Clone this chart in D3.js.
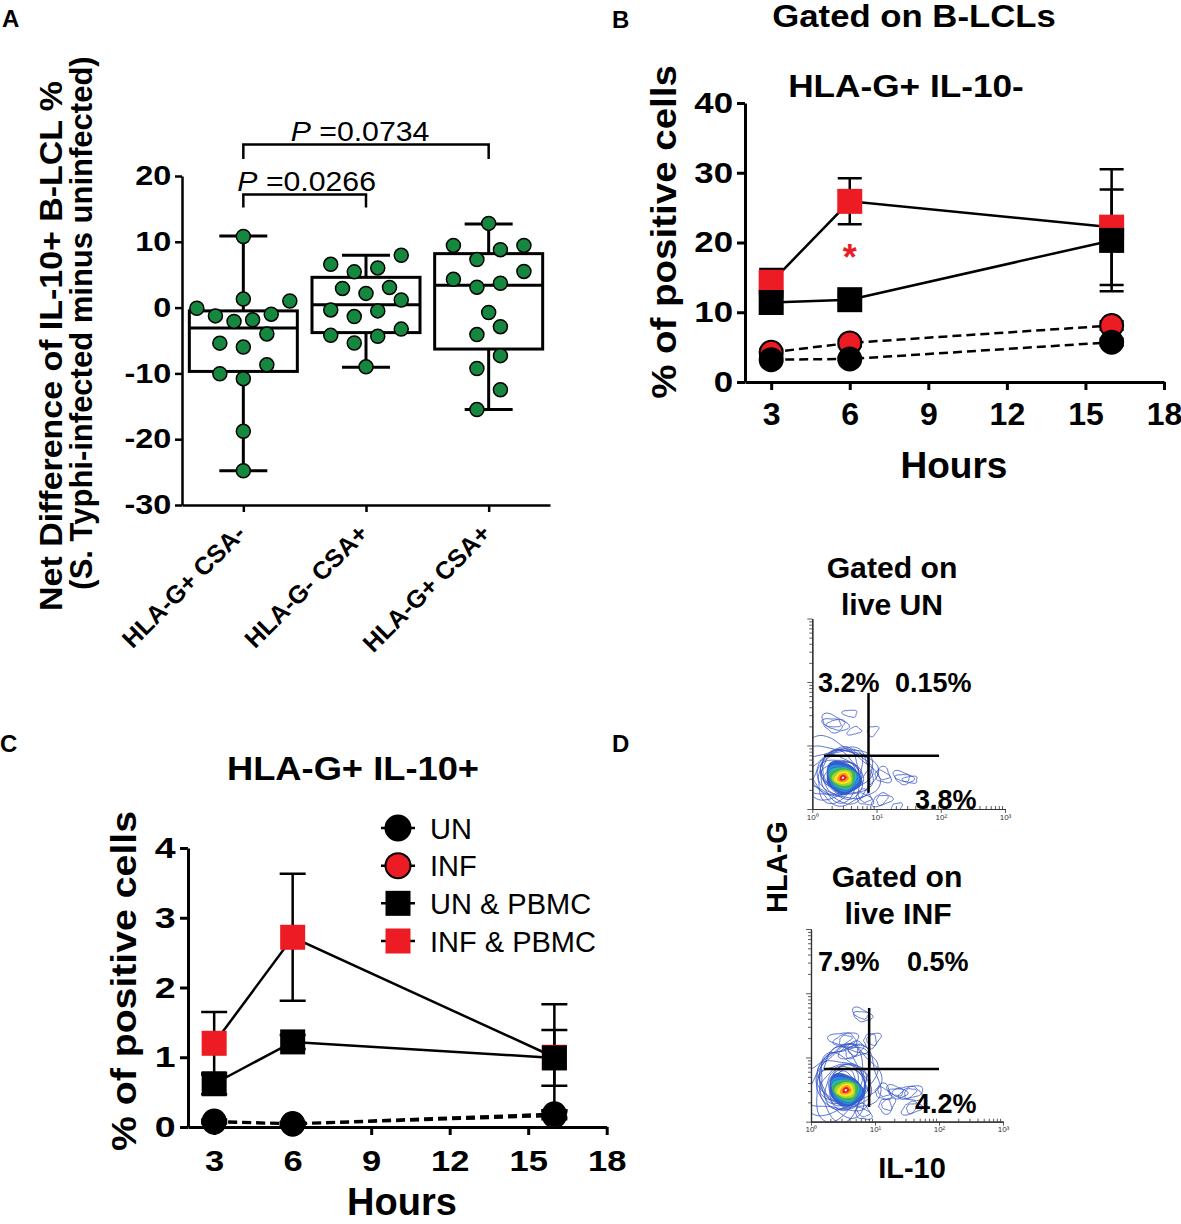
<!DOCTYPE html>
<html lang="en">
<head>
<meta charset="UTF-8">
<title>HLA-G / IL-10 B-LCL figure</title>
<style>
  body { margin: 0; background: #fff; }
</style>
</head>
<body>
<svg id="fig" width="1181" height="1224"></svg>
<script src="https://d3js.org/d3.v7.min.js"></script>
<script>
// ---- panel A data ----
var groupsA = ["HLA-G+ CSA-", "HLA-G- CSA+", "HLA-G+ CSA+"];
var dotsA = [
  [10.8, 1.3, 1.0, -0.1, -1.0, -1.26, -1.86, -2.1, -4.0, -5.4, -6.0, -8.7, -10.05, -10.8, -18.8, -24.8],
  [7.94, 6.58, 6.03, 5.43, 3.07, 2.91, 2.16, 1.16, -0.35, -0.5, -1.36, -3.27, -4.22, -4.37, -5.38, -9.0],
  [12.8, 9.45, 9.45, 8.8, 7.3, 5.5, 4.3, 3.7, 3.1, -0.75, -2.9, -4.1, -7.3, -9.25, -12.5, -15.5]
];
// min, q1, median, q3, max
var boxA = [
  [-24.8, -9.7, -3.1, -0.5, 10.9],
  [-9.05, -3.8, 0.45, 4.6, 7.95],
  [-15.5, -6.3, 3.4, 8.2, 12.7]
];
var ticksA = [-30, -20, -10, 0, 10, 20];
var pvalsA = [
  { a: 0, b: 1, p: "0.0266" },
  { a: 0, b: 2, p: "0.0734" }
];

// ---- panels B and C data (hours post infection) ----
var hours = [3, 6, 16];
var hourTicks = [3, 6, 9, 12, 15, 18];

var bUN = [3.2, 3.3, 5.7];
var bUNsd = [0.3, 0.3, 0.5];
var bINF = [4.25, 5.6, 8.1];
var bINFsd = [0.4, 0.5, 0.6];
var bUNP = [11.4, 11.8, 20.3];
var bUNPsd = [0.8, 0.6, 7.3];
var bINFP = [14.3, 25.9, 22.2];
var bINFPsd = [1.9, 3.3, 8.3];
var ticksB = [0, 10, 20, 30, 40];

var cUN = [0.086, 0.05, 0.19];
var cUNsd = [0.02, 0.02, 0.05];
var cINF = [0.07, 0.04, 0.16];
var cINFsd = [0.02, 0.02, 0.05];
var cUNP = [0.62, 1.22, 0.99];
var cUNPsd = [0.15, 0.1, 0.4];
var cINFP = [1.2, 2.72, 1.0];
var cINFPsd = [0.45, 0.91, 0.76];
var ticksC = [0, 1, 2, 3, 4];

var legendNames = ["UN", "INF", "UN & PBMC", "INF & PBMC"];

// ---- panel D (flow plots) ----
var flowTitles = [["Gated on", "live UN"], ["Gated on", "live INF"]];
var flowQuads = [["3.2%", "0.15%", "3.8%"], ["7.9%", "0.5%", "4.2%"]];
// gate position (IL-10, HLA-G) and extent of the gate lines
var flowGates = [[7.5, 6.9], [8.1, 6.6]];
var flowVRange = [[1.8, 67], [1.7, 59]];
var flowHRange = [[1.52, 94], [1.6, 100]];
var flowCores = [[3.0, 3.1], [3.5, 3.1]];
// small outlying populations: IL-10, HLA-G, rings
var flowSatUN = [[2.2, 22, 3], [3.9, 32, 1], [4.5, 17, 1], [8.7, 17, 1], [12.6, 3.4, 2],
                 [26, 3.1, 2], [34, 2.9, 1], [12.1, 1.4, 2], [20.6, 1.05, 1], [6.5, 1.5, 2]];
var flowSatINF = [[6.2, 46, 2], [3.4, 19, 3], [4.6, 13, 3], [8.9, 18.7, 2], [13.5, 2.9, 2],
                  [21.8, 2.9, 2], [35, 2.8, 3], [37.4, 1.63, 2], [15.3, 1.8, 2], [6.5, 1.4, 2]];
var decades = [1, 10, 100, 1000];

var FONT = "'Liberation Sans', Arial, Helvetica, sans-serif";
var RED = "#ed1c24";
var GREEN = "#16873f";

var svg = d3.select("#fig");

function label(g, x, y, s, size, opt) {
  opt = opt || {};
  return g.append("text")
    .attr("transform", "translate(" + x + "," + y + ")" +
      (opt.rotate ? " rotate(" + opt.rotate + ")" : "") +
      (opt.sx ? " scale(" + opt.sx + ",1)" : ""))
    .attr("text-anchor", opt.anchor || "middle")
    .attr("font-family", FONT)
    .attr("font-size", size)
    .attr("font-weight", opt.weight || "bold")
    .attr("fill", opt.fill || "#000")
    .text(s);
}

// the original figure uses a wider bold face, so tick labels get stretched a little
function styleAxis(ax, size, w, sx) {
  ax.attr("font-family", FONT).attr("font-size", size).attr("font-weight", "bold");
  ax.select(".domain").attr("stroke-width", w);
  ax.selectAll(".tick line").attr("stroke-width", w);
  ax.selectAll(".tick text").attr("fill", "#000");
  if (sx) ax.selectAll(".tick text").attr("transform", "scale(" + sx + ",1)");
}
var plain = function (d) { return String(d); };

// panel letters
label(svg, 2, 27, "A", 24, { anchor: "start" });
label(svg, 612, 28, "B", 24, { anchor: "start" });
label(svg, 0, 752, "C", 24, { anchor: "start" });
label(svg, 612, 752, "D", 24, { anchor: "start" });

// ================= A =================
var gA = svg.append("g");
var yA = d3.scaleLinear().domain([-30, 20]).range([505, 176]);
var xA = d3.scalePoint().domain(groupsA).range([182, 550]).padding(0.5);

var axYA = gA.append("g").attr("transform", "translate(182,0)")
  .call(d3.axisLeft(yA).tickValues(ticksA).tickFormat(plain).tickSize(7).tickPadding(2).tickSizeOuter(0));
styleAxis(axYA, 27, 2.5, 1.2);

var axXA = gA.append("g").attr("transform", "translate(0,505)")
  .call(d3.axisBottom(xA).tickSize(7).tickSizeOuter(0));
styleAxis(axXA, 25, 2.5);
axXA.selectAll(".tick text")
  .attr("x", null).attr("y", null).attr("dy", null)
  .attr("text-anchor", "end")
  .attr("transform", "translate(3,30) rotate(-45)");

label(gA, 62, 346, "Net Difference of IL-10+ B-LCL %", 32, { rotate: -90, sx: 1.06 });
label(gA, 92, 323, "(S. Typhi-infected minus uninfected)", 31, { rotate: -90 });

// boxes
var boxW = 108, capW = 48;
boxA.forEach(function (b, i) {
  var cx = xA(groupsA[i]);
  var g = gA.append("g").attr("stroke", "#000").attr("stroke-width", 3).attr("fill", "none");
  g.append("line").attr("x1", cx).attr("x2", cx).attr("y1", yA(b[0])).attr("y2", yA(b[1]));
  g.append("line").attr("x1", cx).attr("x2", cx).attr("y1", yA(b[3])).attr("y2", yA(b[4]));
  g.append("line").attr("x1", cx - capW / 2).attr("x2", cx + capW / 2).attr("y1", yA(b[0])).attr("y2", yA(b[0]));
  g.append("line").attr("x1", cx - capW / 2).attr("x2", cx + capW / 2).attr("y1", yA(b[4])).attr("y2", yA(b[4]));
  g.append("rect").attr("x", cx - boxW / 2).attr("y", yA(b[3]))
    .attr("width", boxW).attr("height", yA(b[1]) - yA(b[3])).attr("fill", "#fff");
  g.append("line").attr("x1", cx - boxW / 2).attr("x2", cx + boxW / 2).attr("y1", yA(b[2])).attr("y2", yA(b[2]));
});

// Prism-like scatter: going up from the lowest value, dots within `rowH` px form a row;
// a row is spread evenly, lowest values in the middle, highest at the ends.
function swarm(vals, ys, rowH, gap, maxW) {
  var out = [];
  var order = vals.map(function (v, i) { return i; })
    .sort(function (a, b) { return vals[a] - vals[b]; });
  var rows = [];
  order.forEach(function (i) {
    var row = rows[rows.length - 1];
    if (row && ys(vals[row[0]]) - ys(vals[i]) < rowH) row.push(i);
    else rows.push([i]);
  });
  rows.forEach(function (row) {
    var n = row.length;
    var step = n > 1 ? Math.min(gap, maxW / (n - 1)) : 0;
    var slots = d3.range(n).map(function (j) { return (j - (n - 1) / 2) * step; })
      .sort(function (a, b) { return Math.abs(a) - Math.abs(b) || a - b; });
    row.forEach(function (i, j) { out[i] = slots[j]; });
  });
  return out;
}

dotsA.forEach(function (vals, i) {
  var cx = xA(groupsA[i]);
  var offs = swarm(vals, yA, 21.5, 23.5, 93);
  gA.append("g").selectAll("circle").data(vals).enter().append("circle")
    .attr("cx", function (d, j) { return cx + offs[j]; })
    .attr("cy", function (d) { return yA(d); })
    .attr("r", 7)
    .attr("fill", GREEN).attr("stroke", "#000").attr("stroke-width", 1.5);
});

// significance brackets
var bracketLevels = [[17.2, 15.2], [24.8, 22.6]];
pvalsA.forEach(function (p, i) {
  var x1 = xA(groupsA[p.a]), x2 = xA(groupsA[p.b]);
  var top = yA(bracketLevels[i][0]), foot = yA(bracketLevels[i][1]);
  gA.append("path")
    .attr("d", "M" + x1 + "," + foot + "V" + top + "H" + x2 + "V" + foot)
    .attr("fill", "none").attr("stroke", "#000").attr("stroke-width", 2.5);
  var t = gA.append("text")
    .attr("transform", "translate(" + ((x1 + x2) / 2 + (i ? -6 : 2)) + "," + (top - 3) + ") scale(1.08,1)")
    .attr("text-anchor", "middle")
    .attr("font-family", FONT).attr("font-size", 28);
  t.append("tspan").attr("font-style", "italic").text("P");
  t.append("tspan").text(" =" + p.p);
});

// ============ time-course helper (B, C) ============
function marker(g, cx, cy, shape, fill, r) {
  if (shape === "circle") {
    g.append("circle").attr("cx", cx).attr("cy", cy).attr("r", r - 1)
      .attr("fill", fill).attr("stroke", "#000").attr("stroke-width", 2);
  } else {
    g.append("rect").attr("x", cx - r).attr("y", cy - r)
      .attr("width", 2 * r).attr("height", 2 * r).attr("fill", fill);
  }
}

function timeCourse(g, x, y, sets, capW) {
  sets.forEach(function (s) {
    g.append("path")
      .attr("d", d3.line()(hours.map(function (h, i) { return [x(h), y(s.v[i])]; })))
      .attr("fill", "none").attr("stroke", "#000").attr("stroke-width", 2.5)
      .attr("stroke-dasharray", s.dash ? "9,5" : null);
  });
  sets.forEach(function (s) {
    hours.forEach(function (h, i) {
      var cx = x(h), lo = y(s.v[i] - s.sd[i]), hi = y(s.v[i] + s.sd[i]);
      g.append("path")
        .attr("d", "M" + cx + "," + lo + "V" + hi +
          "M" + (cx - capW / 2) + "," + hi + "H" + (cx + capW / 2) +
          "M" + (cx - capW / 2) + "," + lo + "H" + (cx + capW / 2))
        .attr("fill", "none").attr("stroke", "#000").attr("stroke-width", 2.5);
    });
  });
  sets.forEach(function (s) {
    hours.forEach(function (h, i) {
      marker(g, x(h), y(s.v[i]), s.shape, s.fill, 12.5);
    });
  });
}

// ================= B =================
var gB = svg.append("g");
var xB = d3.scaleLinear().domain([2, 18]).range([745, 1164]);
var yB = d3.scaleLinear().domain([0, 40]).range([382, 103]);

var axYB = gB.append("g").attr("transform", "translate(745,0)")
  .call(d3.axisLeft(yB).tickValues(ticksB).tickFormat(plain).tickSize(8).tickPadding(2).tickSizeOuter(0));
styleAxis(axYB, 29, 3, 1.2);
var axXB = gB.append("g").attr("transform", "translate(0,382)")
  .call(d3.axisBottom(xB).tickValues(hourTicks).tickFormat(plain).tickSize(8).tickPadding(12).tickSizeOuter(0));
styleAxis(axXB, 32, 3);

label(gB, 914, 27, "Gated on B-LCLs", 31, { sx: 1.12 });
label(gB, 906, 97, "HLA-G+ IL-10-", 32, { sx: 1.1 });
label(gB, 676, 232, "% of positive cells", 35, { rotate: -90, sx: 1.1 });
label(gB, 954, 478, "Hours", 37);

timeCourse(gB, xB, yB, [
  { v: bINF, sd: bINFsd, shape: "circle", fill: RED, dash: true },
  { v: bUN, sd: bUNsd, shape: "circle", fill: "#000", dash: true },
  { v: bINFP, sd: bINFPsd, shape: "square", fill: RED, dash: false },
  { v: bUNP, sd: bUNPsd, shape: "square", fill: "#000", dash: false }
], 24);

label(gB, xB(6), yB(16), "*", 36, { fill: RED });

// ================= C =================
var gC = svg.append("g");
var xC = d3.scaleLinear().domain([2, 18]).range([188, 606.7]);
var yC = d3.scaleLinear().domain([0, 4]).range([1127, 848]);

var axYC = gC.append("g").attr("transform", "translate(188,0)")
  .call(d3.axisLeft(yC).tickValues(ticksC).tickFormat(plain).tickSize(8).tickPadding(2).tickSizeOuter(0));
styleAxis(axYC, 30, 3, 1.25);
var axXC = gC.append("g").attr("transform", "translate(0,1127)")
  .call(d3.axisBottom(xC).tickValues(hourTicks).tickFormat(plain).tickSize(8).tickPadding(15).tickSizeOuter(0));
styleAxis(axXC, 30, 3, 1.15);

label(gC, 353, 780, "HLA-G+ IL-10+", 33, { sx: 1.1 });
label(gC, 136, 981, "% of positive cells", 36, { rotate: -90, sx: 1.09 });
label(gC, 402, 1215, "Hours", 38);

timeCourse(gC, xC, yC, [
  { v: cINF, sd: cINFsd, shape: "circle", fill: RED, dash: true },
  { v: cUN, sd: cUNsd, shape: "circle", fill: "#000", dash: true },
  { v: cINFP, sd: cINFPsd, shape: "square", fill: RED, dash: false },
  { v: cUNP, sd: cUNPsd, shape: "square", fill: "#000", dash: false }
], 26);

// legend
var legShapes = ["circle", "circle", "square", "square"];
var legFills = ["#000", RED, "#000", RED];
var legRow = d3.scalePoint().domain(legendNames).range([828, 941]);
legendNames.forEach(function (n, i) {
  var ly = legRow(n);
  gC.append("line").attr("x1", 381).attr("x2", 415).attr("y1", ly).attr("y2", ly)
    .attr("stroke", "#000").attr("stroke-width", 2.5);
  marker(gC, 398, ly, legShapes[i], legFills[i], legShapes[i] === "circle" ? 13.5 : 12.5);
  label(gC, 430, ly + 10.5, n, 29, { anchor: "start", weight: "normal" });
});

// ================= D =================
var gD = svg.append("g");
var flowBoxes = [
  { x0: 812.3, x1: 1005, y0: 809, y1: 618.5 },
  { x0: 811, x1: 1003, y0: 1121.7, y1: 929 }
];
var BLUE = "#3553c4";

// closed wobbly outline used for the density contours
function blobPath(cx, cy, rx, ry, ph, amp) {
  var pts = [];
  amp = amp || 1;
  for (var k = 0; k < 28; k++) {
    var a = k / 28 * 2 * Math.PI;
    var r = 1 + amp * (0.13 * Math.sin(2 * a + ph) + 0.08 * Math.cos(3 * a + 2 * ph) + 0.05 * Math.sin(5 * a + 3 * ph));
    pts.push([cx + rx * r * Math.cos(a), cy + ry * r * Math.sin(a)]);
  }
  return d3.line().curve(d3.curveCardinalClosed)(pts);
}

flowBoxes.forEach(function (bx, p) {
  var xs = d3.scaleLog().domain([1, 1000]).range([bx.x0, bx.x1]);
  var ys = d3.scaleLog().domain([1, 1000]).range([bx.y0, bx.y1]);
  var g = gD.append("g");

  var clipId = "clip" + p;
  g.append("clipPath").attr("id", clipId).append("rect")
    .attr("x", bx.x0).attr("y", bx.y1).attr("width", bx.x1 - bx.x0).attr("height", bx.y0 - bx.y1);
  var cg = g.append("g").attr("clip-path", "url(#" + clipId + ")");

  // main population: blue contour rings around a coloured core
  var core = flowCores[p];
  var cx = xs(core[0]), cy = ys(core[1]);
  for (var k = 0; k < 16; k++) {
    var s = 1 - k * 0.045;
    cg.append("path")
      .attr("d", blobPath(cx - 3 * s, cy - (p ? 10 : 5) * s, 33 * s, (p ? 36 : 31) * s, k * 0.7 + p * 2, 1.6 - k * 0.06))
      .attr("fill", "none").attr("stroke", BLUE).attr("stroke-width", 0.8);
  }
  var layers = [["#2f5fd0", 17, 16], ["#2e8fd8", 15, 14], ["#27b3c6", 13, 12.5], ["#3cb64a", 11.5, 11],
                ["#a6d13a", 9.5, 9], ["#f5e61b", 7.5, 7], ["#f7941d", 5.2, 4.8], ["#e8202a", 3.3, 3], ["#ffffff", 1.1, 1.1]];
  layers.forEach(function (l, k) {
    cg.append("path").attr("d", blobPath(cx, cy, l[1], l[2], k * 0.4, 0.8))
      .attr("fill", l[0]).attr("stroke", k < 3 ? BLUE : "none").attr("stroke-width", 0.6);
  });

  // outlying populations
  (p ? flowSatINF : flowSatUN).forEach(function (sat, j) {
    for (var k = 0; k < sat[2]; k++) {
      var rr = 2 + (sat[2] - k) * 2.2;
      cg.append("path").attr("d", blobPath(xs(sat[0]), ys(sat[1]), rr * 1.4, rr, j * 1.3 + k, 1.8))
        .attr("fill", "none").attr("stroke", BLUE).attr("stroke-width", 0.8);
    }
  });

  // log axes
  var minors = [];
  decades.slice(0, 3).forEach(function (d) {
    for (var m = 2; m < 10; m++) minors.push(d * m);
  });
  var axX = g.append("g").attr("transform", "translate(0," + bx.y0 + ")")
    .call(d3.axisBottom(xs).tickValues(minors).tickSize(-3).tickFormat("").tickSizeOuter(0));
  var axXM = g.append("g").attr("transform", "translate(0," + bx.y0 + ")")
    .call(d3.axisBottom(xs).tickValues(decades).tickSize(4).tickPadding(1).tickSizeOuter(0)
      .tickFormat(function (d) { return "10" + "\u2070\u00b9\u00b2\u00b3".charAt(Math.round(Math.log10(d))); }));
  var axY = g.append("g").attr("transform", "translate(" + bx.x0 + ",0)")
    .call(d3.axisLeft(ys).tickValues(minors).tickSize(3).tickFormat("").tickSizeOuter(0));
  var axYM = g.append("g").attr("transform", "translate(" + bx.x0 + ",0)")
    .call(d3.axisLeft(ys).tickValues(decades).tickSize(5).tickFormat("").tickSizeOuter(0));
  [axX, axXM, axY, axYM].forEach(function (a) {
    a.select(".domain").attr("stroke", "#333").attr("stroke-width", 1.2);
    a.selectAll(".tick line").attr("stroke", "#333").attr("stroke-width", 0.8);
  });
  axXM.attr("font-size", 8).attr("font-family", FONT).selectAll(".tick text").attr("fill", "#333");

  // quadrant gate
  var gate = flowGates[p];
  g.append("line").attr("x1", xs(gate[0])).attr("x2", xs(gate[0]))
    .attr("y1", ys(flowVRange[p][0])).attr("y2", ys(flowVRange[p][1]))
    .attr("stroke", "#000").attr("stroke-width", 2.5);
  g.append("line").attr("x1", xs(flowHRange[p][0])).attr("x2", xs(flowHRange[p][1]))
    .attr("y1", ys(gate[1])).attr("y2", ys(gate[1]))
    .attr("stroke", "#000").attr("stroke-width", 2.5);

  // quadrant percentages
  var q = flowQuads[p];
  var topY = p ? 971 : 692;
  label(g, 818, topY, q[0], 27, { anchor: "start" });
  label(g, p ? 907 : 895, topY, q[1], 27, { anchor: "start" });
  label(g, 915, p ? 1113 : 809, q[2], 27, { anchor: "start" });

  // titles
  var t = flowTitles[p];
  label(g, p ? 897 : 892, p ? 887 : 578, t[0], 29, { sx: 1.04 });
  label(g, p ? 898 : 892, p ? 924 : 615, t[1], 29, { sx: 1.04 });
});

label(gD, 787, 867, "HLA-G", 29, { rotate: -90 });
label(gD, 912, 1178, "IL-10", 29);
</script>
</body>
</html>
